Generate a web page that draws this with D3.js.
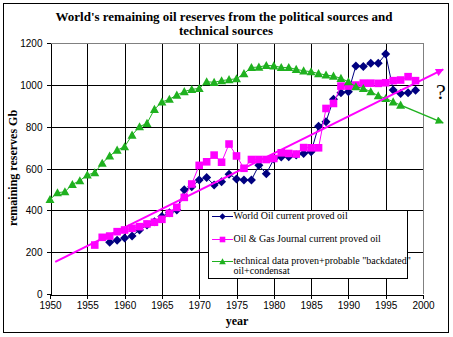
<!DOCTYPE html>
<html>
<head>
<meta charset="utf-8">
<script src="https://cdn.jsdelivr.net/npm/d3@7.9.0/dist/d3.min.js"></script>
<style>
  body { margin: 0; background: #fff; }
  svg { display: block; }
  .tick-label { font-family: "Liberation Sans", Arial, sans-serif; font-size: 10px; fill: #000; }
  .serif-bold { font-family: "Liberation Serif", "Times New Roman", serif; font-weight: bold; fill: #000; }
  .legend-text { font-family: "Liberation Serif", "Times New Roman", serif; font-size: 10px; fill: #000; }
</style>
</head>
<body>
<svg id="chart" width="453" height="337"></svg>
<script>
// World Oil: current proved reserves (Gb)
const worldOilYears = d3.range(1958, 2000);
const worldOil = [248, 257, 268, 277, 306, 330, 346, 370, 389, 402,
  498, 513, 545, 557, 521, 537, 573, 550, 545, 545,
  615, 575, 645, 655, 656, 664, 672, 680, 802, 824,
  931, 962, 967, 1090, 1088, 1103, 1103, 1147, 975, 959,
  962, 974];

// Oil & Gas Journal: current proved reserves (Gb)
const ogjYears = d3.range(1956, 2000);
const ogj = [234, 271, 277, 298, 306, 314, 322, 335, 343, 357,
  386, 414, 462, 526, 615, 632, 664, 630, 717, 660,
  601, 643, 643, 643, 648, 675, 672, 669, 700, 699,
  699, 887, 911, 994, 994, 999, 1008, 1008, 1007, 1010,
  1020, 1023, 1039, 1020];

// technical data: proven + probable backdated oil + condensate (Gb)
const techYears = d3.range(1950, 1998);
const tech = [452, 484, 489, 524, 542, 569, 580, 625, 660, 688,
  704, 760, 800, 816, 883, 918, 931, 951, 968, 978,
  983, 1015, 1012, 1020, 1025, 1029, 1054, 1083, 1085, 1093,
  1091, 1083, 1083, 1074, 1067, 1063, 1054, 1047, 1042, 1031,
  1015, 991, 983, 967, 948, 935, 919, 903];

// hand-drawn arrows: rising political trend, falling technical projection
const politicalTrend = [[1950.7, 154], [2002.7, 1074]];
const technicalProjection = [[1997, 903], [2002.7, 818]];

const xTicks = d3.range(1950, 2001, 5);
const yTicks = d3.range(0, 1201, 200);

const legendLabels = [
  ["World Oil current proved oil"],
  ["Oil & Gas Journal current proved oil"],
  ["technical data proven+probable \"backdated\"", "oil+condensat"]
];

const navy = "#000080";
const magenta = "#ff00ff";
const green = "#1fb11f";

const svg = d3.select("#chart");

const x = d3.scaleLinear().domain([1950, 2000]).range([50, 423]);
const y = d3.scaleLinear().domain([0, 1200]).range([294, 43]);

// outer frame
svg.append("rect")
  .attr("x", 3.5).attr("y", 3.5)
  .attr("width", 445).attr("height", 329)
  .attr("fill", "#fff").attr("stroke", "#000");

// title
const title = svg.append("text")
  .attr("class", "serif-bold")
  .attr("text-anchor", "middle")
  .style("font-size", "13px");
title.append("tspan").attr("x", 224).attr("y", 20.5)
  .text("World's remaining oil reserves from the political sources and");
title.append("tspan").attr("x", 226).attr("y", 35)
  .text("technical sources");

// grid
const grid = svg.append("g").attr("shape-rendering", "crispEdges");
grid.selectAll(".hgrid").data(yTicks.filter(d => d > 0 && d < 1200)).join("line")
  .attr("x1", x(1950)).attr("x2", x(2000))
  .attr("y1", d => Math.round(y(d)) + 0.5).attr("y2", d => Math.round(y(d)) + 0.5)
  .attr("stroke", "#000");
grid.selectAll(".vgrid").data(xTicks.filter(d => d > 1950 && d < 2000)).join("line")
  .attr("x1", d => Math.round(x(d)) + 0.5).attr("x2", d => Math.round(x(d)) + 0.5)
  .attr("y1", y(1200)).attr("y2", y(0) + 4)
  .attr("stroke", "#000");

// plot border: grey top and right
grid.append("path")
  .attr("d", `M${x(1950)},${y(1200) + 0.5}H${x(2000) + 0.5}V${y(0)}`)
  .attr("fill", "none").attr("stroke", "#808080");

// axes
const xAxis = svg.append("g")
  .attr("transform", `translate(0,${y(0) + 0.5})`)
  .call(d3.axisBottom(x).tickValues(xTicks).tickFormat(d3.format("d")).tickSize(4).tickSizeOuter(0));
const yAxis = svg.append("g")
  .attr("transform", `translate(${x(1950) + 0.5},0)`)
  .call(d3.axisLeft(y).tickValues(yTicks).tickFormat(d3.format("d")).tickSize(4).tickSizeOuter(0));

[xAxis, yAxis].forEach(g => {
  g.select(".domain").attr("stroke", "#000").attr("shape-rendering", "crispEdges");
  g.selectAll(".tick line").attr("stroke", "#000").attr("shape-rendering", "crispEdges");
  g.selectAll(".tick text").attr("class", "tick-label").attr("font-family", null).attr("font-size", null);
});
xAxis.selectAll(".tick text").attr("dy", null).attr("y", 14.5);
yAxis.selectAll(".tick text").attr("x", -8).attr("dy", "0.35em");

// axis titles
svg.append("text")
  .attr("class", "serif-bold")
  .attr("text-anchor", "middle")
  .style("font-size", "12px")
  .attr("x", 237).attr("y", 325)
  .text("year");
svg.append("text")
  .attr("class", "serif-bold")
  .attr("text-anchor", "middle")
  .style("font-size", "12px")
  .attr("transform", "translate(17,168) rotate(-90)")
  .text("remaining reserves Gb");

// marker shapes
const diamond = r => `M0,${-r}L${r},0L0,${r}L${-r},0Z`;
const square = r => `M${-r},${-r}H${r}V${r}H${-r}Z`;
const triangle = r => `M0,${-r}L${r},${r * 0.8}H${-r}Z`;

const line = d3.line().x(d => x(d[0])).y(d => y(d[1]));

function drawSeries(years, values, color, shape) {
  const pts = years.map((yr, i) => [yr, values[i]]);
  const g = svg.append("g");
  g.append("path")
    .attr("d", line(pts))
    .attr("fill", "none").attr("stroke", color).attr("stroke-width", 1);
  g.selectAll("path.mark").data(pts).join("path")
    .attr("class", "mark")
    .attr("transform", d => `translate(${x(d[0])},${y(d[1])})`)
    .attr("d", shape)
    .attr("fill", color);
}

drawSeries(worldOilYears, worldOil, navy, diamond(4.5));
drawSeries(ogjYears, ogj, magenta, square(3.8));
drawSeries(techYears, tech, green, triangle(4.5));

// arrowheads
const defs = svg.append("defs");
[["arrow-magenta", magenta], ["arrow-green", green]].forEach(([id, c]) => {
  defs.append("marker")
    .attr("id", id)
    .attr("viewBox", "0 0 10 10")
    .attr("refX", 9).attr("refY", 5)
    .attr("markerUnits", "userSpaceOnUse")
    .attr("markerWidth", 10).attr("markerHeight", 8)
    .attr("orient", "auto")
    .append("path").attr("d", "M0,0L10,5L0,10Z").attr("fill", c);
});

svg.append("path")
  .attr("d", line(technicalProjection))
  .attr("fill", "none").attr("stroke", green).attr("stroke-width", 1.5)
  .attr("marker-end", "url(#arrow-green)");
svg.append("path")
  .attr("d", line(politicalTrend))
  .attr("fill", "none").attr("stroke", magenta).attr("stroke-width", 2)
  .attr("marker-end", "url(#arrow-magenta)");

// question mark beside the two arrows
svg.append("text")
  .attr("x", 441).attr("y", 99)
  .attr("text-anchor", "middle")
  .style("font-family", "'Liberation Serif', 'Times New Roman', serif")
  .style("font-size", "22px")
  .text("?");

// legend
const legend = svg.append("g").attr("transform", "translate(208.5,210.5)");
legend.append("rect")
  .attr("width", 199).attr("height", 68)
  .attr("fill", "#fff").attr("stroke", "#000")
  .attr("shape-rendering", "crispEdges");

const legendItems = [
  { color: navy, shape: diamond(3.2), ly: 6, ty: [8] },
  { color: magenta, shape: square(2.8), ly: 29, ty: [31.5] },
  { color: green, shape: triangle(3.3), ly: 51, ty: [53.5, 63.5] }
];
legendItems.forEach((it, i) => {
  const row = legend.append("g");
  row.append("line")
    .attr("x1", 3.5).attr("x2", 24.5)
    .attr("y1", it.ly).attr("y2", it.ly)
    .attr("stroke", it.color);
  row.append("path")
    .attr("transform", `translate(14,${it.ly})`)
    .attr("d", it.shape).attr("fill", it.color);
  legendLabels[i].forEach((t, j) => {
    row.append("text")
      .attr("class", "legend-text")
      .attr("x", 25).attr("y", it.ty[j])
      .text(t);
  });
});
</script>
</body>
</html>
